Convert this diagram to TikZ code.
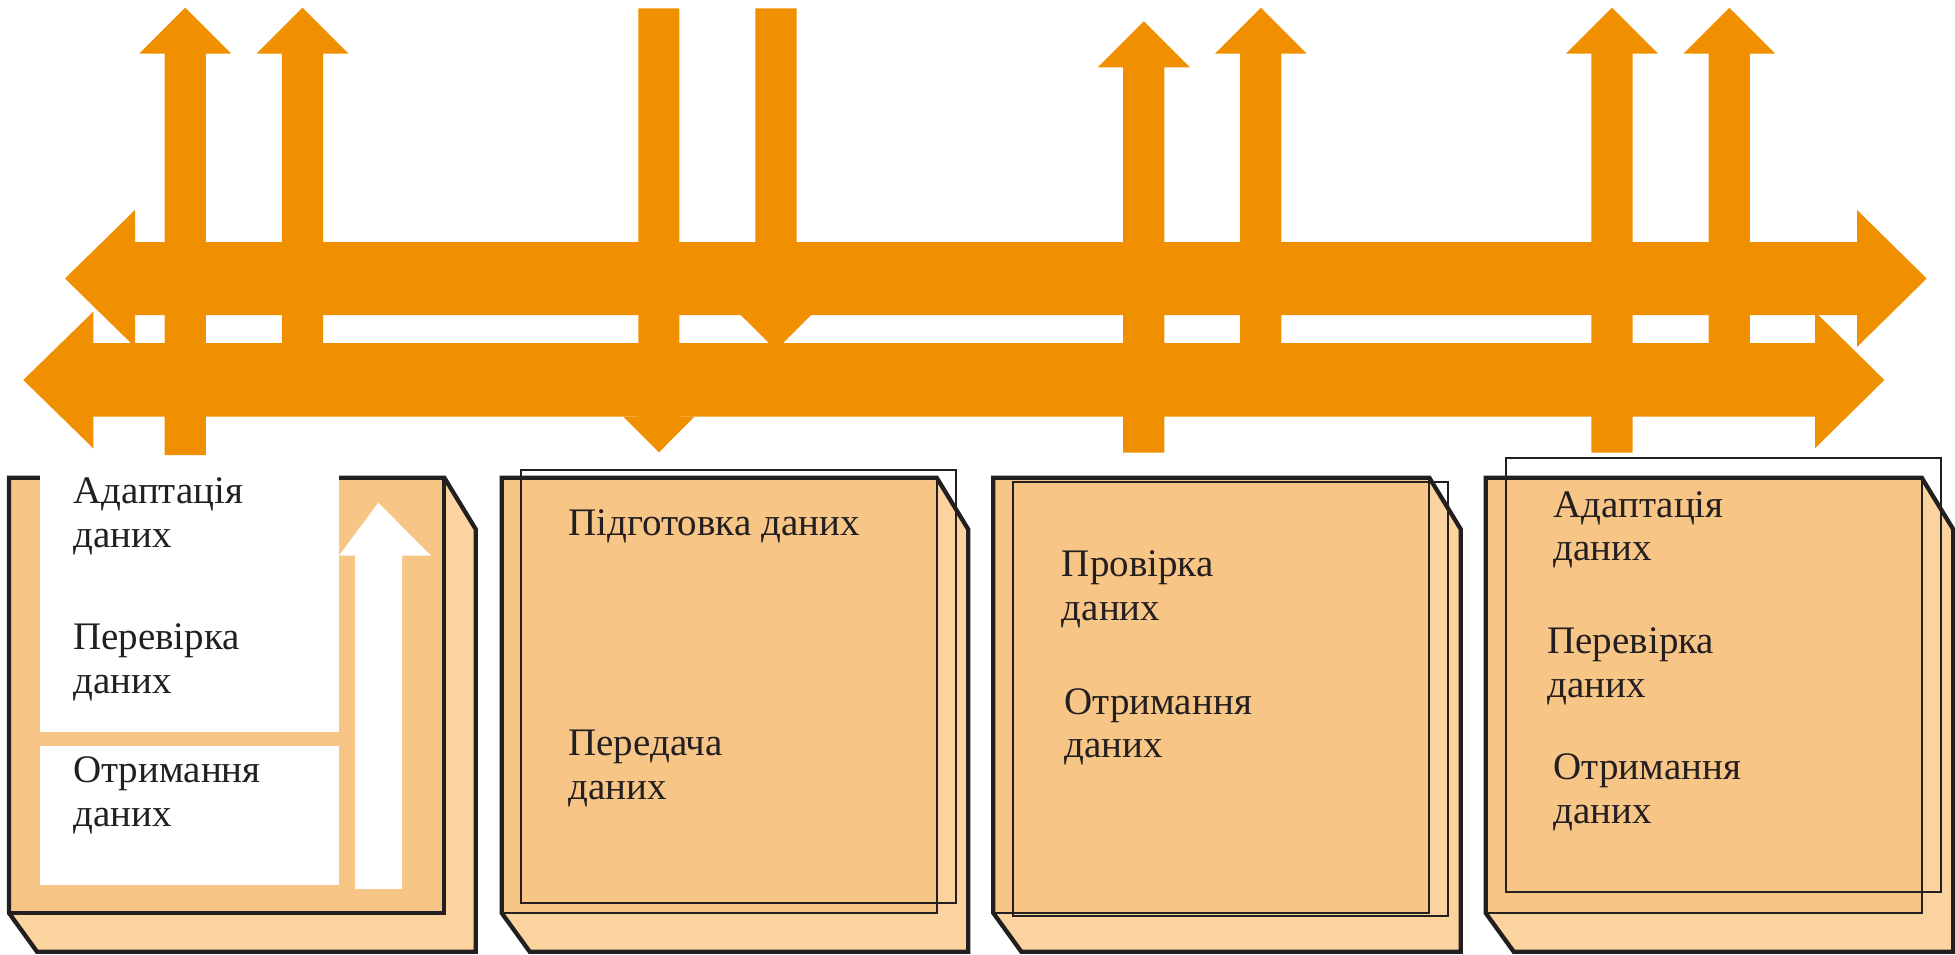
\documentclass[tikz,border=0pt]{standalone}
\usepackage{fontspec}
\setmainfont{Liberation Serif}
\definecolor{arrOrange}{RGB}{240,144,0}
\definecolor{faceCol}{RGB}{247,198,134}
\definecolor{sideCol}{RGB}{250,211,158}
\definecolor{inkCol}{RGB}{35,31,32}
\newcommand{\UpArr}[4]{% cx, tip y, head base y, bottom y
  \fill[arrOrange] ({#1-20.6},#4) -- ({#1-20.6},#3) -- ({#1-46},#3) -- (#1,#2) -- ({#1+46},#3) -- ({#1+20.6},#3) -- ({#1+20.6},#4) -- cycle;}
\newcommand{\DataCube}[3]{% L, R, inner edge width
  \fill[sideCol] (#1,477.7) -- (#2,477.7) -- ({#2+31.5},529.3) -- ({#2+31.5},951.7) -- ({#1+28},951.7) -- (#1,913) -- cycle;
  \fill[faceCol] (#1,477.7) rectangle (#2,913);
  \draw[inkCol,line width=#3] (#2,477.7) -- (#2,913) -- (#1,913);
  \draw[inkCol,line width=4.3,line join=miter] (#1,477.7) -- (#2,477.7) -- ({#2+31.5},529.3) -- ({#2+31.5},951.7) -- ({#1+28},951.7) -- (#1,913) -- cycle;}
\tikzset{
  lbl/.style={anchor=base west,inner sep=0pt,align=left,text=inkCol,font=\fontsize{39}{43.5}\selectfont},
  thinframe/.style={draw=inkCol,line width=1.8}
}
\begin{document}
\begin{tikzpicture}[x=1pt,y=-1pt]
\useasboundingbox (0,0) rectangle (1955,955);
% horizontal double arrows
\fill[arrOrange] (65,278.5) -- (135,210) -- (135,242) -- (1857,242) -- (1857,210) -- (1926.7,278.5) -- (1857,347) -- (1857,315) -- (135,315) -- (135,347) -- cycle;
\fill[arrOrange] (23.3,380) -- (93.3,311.7) -- (93.3,343) -- (1815,343) -- (1815,311.7) -- (1884.3,380) -- (1815,448.3) -- (1815,416.7) -- (93.3,416.7) -- (93.3,448.3) -- cycle;
% up arrows
\UpArr{185.2}{7.7}{53.7}{455}
\UpArr{302.5}{7.7}{53.7}{380}
\UpArr{1143.8}{21.3}{67.3}{452.7}
\UpArr{1260.8}{7.7}{53.7}{380}
\UpArr{1612}{7.7}{53.7}{452.7}
\UpArr{1729.3}{7.7}{53.7}{380}
% down arrows
\fill[arrOrange] (638.3,8.3) -- (679.3,8.3) -- (679.3,416.7) -- (694.3,416.7) -- (659,452.3) -- (623.3,416.7) -- (638.3,416.7) -- cycle;
\fill[arrOrange] (755.3,8.3) -- (796.7,8.3) -- (796.7,315) -- (811,315) -- (776,350) -- (740.7,315) -- (755.3,315) -- cycle;
% cubes
\DataCube{9}{444.3}{4.3}
\DataCube{501.7}{936.7}{2}
\DataCube{993.3}{1429.3}{2}
\DataCube{1485.7}{1921.7}{2}
% box 1 white panels and arrow
\fill[white] (40,473) rectangle (339,732);
\fill[white] (40,746) rectangle (339,885);
\fill[white] (355,889) -- (355,555.7) -- (339,555.7) -- (378.3,502.7) -- (431,555.7) -- (402,555.7) -- (402,889) -- cycle;
% thin frames
\draw[thinframe] (521,470) rectangle (956,903.3);
\draw[thinframe] (1012.7,482) rectangle (1447.7,915.7);
\draw[thinframe] (1506,458.3) rectangle (1940.7,892.3);
% labels (anchor at baseline of last line)
\node[lbl] (a1) at (73,547) {Адаптація\\даних};
\node[lbl] (p1) at (73,693) {Перевірка\\даних};
\node[lbl] (o1) at (73,826) {Отримання\\даних};
\node[lbl] (g2) at (568.3,535) {Підготовка даних};
\node[lbl] (t2) at (568.3,799) {Передача\\даних};
\node[lbl] (p3) at (1061.7,620) {Провірка\\даних};
\node[lbl] (o3) at (1064.3,757.7) {Отримання\\даних};
\node[lbl] (a4) at (1553.3,560.7) {Адаптація\\даних};
\node[lbl] (p4) at (1547.3,697.3) {Перевірка\\даних};
\node[lbl] (o4) at (1553.3,823.3) {Отримання\\даних};
\end{tikzpicture}
\end{document}
